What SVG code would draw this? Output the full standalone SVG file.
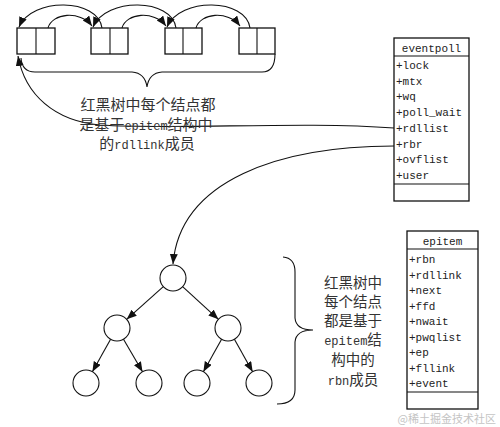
<svg xmlns="http://www.w3.org/2000/svg" width="500" height="427" viewBox="0 0 500 427">
<style>
.box{fill:#fff;stroke:#111;stroke-width:1.3}
.ln{fill:none;stroke:#111;stroke-width:1.1}
.ar{fill:none;stroke:#111;stroke-width:1.1;marker-end:url(#ah)}
.node{fill:#fff;stroke:#111;stroke-width:1.1}
.mono{font-family:"Liberation Mono","DejaVu Sans Mono",monospace;font-size:11px;fill:#222}
.cjk{font-family:"Noto Sans CJK SC","Liberation Sans",sans-serif;font-size:15px;fill:#333}
.cjk2{font-family:"Noto Sans CJK SC","Liberation Sans",sans-serif;font-size:14.5px;fill:#333}
.lat{font-family:"Liberation Mono","DejaVu Sans Mono",monospace;font-size:12px}
.wm{font-family:"Noto Sans CJK SC",sans-serif;font-size:11px;fill:#c4c4c4}
</style>
<defs>
<marker id="ah" markerUnits="userSpaceOnUse" markerWidth="11" markerHeight="9" refX="10" refY="4" orient="auto">
<path d="M0,0 L10,4 L0,8 z" fill="#111"/>
</marker>
</defs>

<g id="list-node-1"><rect class="box" x="17" y="28" width="38" height="26"/><line class="ln" x1="36" y1="28" x2="36" y2="54"/></g>
<g id="list-node-2"><rect class="box" x="91" y="28" width="37" height="26"/><line class="ln" x1="110" y1="28" x2="110" y2="54"/></g>
<g id="list-node-3"><rect class="box" x="165" y="28" width="37" height="26"/><line class="ln" x1="183" y1="28" x2="183" y2="54"/></g>
<g id="list-node-4"><rect class="box" x="239" y="28" width="36" height="26"/><line class="ln" x1="257" y1="28" x2="257" y2="54"/></g>

<g id="eventpoll">
<rect class="box" x="394" y="38" width="75" height="163"/>
<line class="ln" x1="394" y1="56" x2="469" y2="56"/>
<line class="ln" x1="394" y1="184" x2="469" y2="184"/>
<text class="mono" x="431.5" y="52" text-anchor="middle">eventpoll</text>
<text class="mono" x="396" y="69">+lock</text>
<text class="mono" x="396" y="84.7">+mtx</text>
<text class="mono" x="396" y="100.4">+wq</text>
<text class="mono" x="396" y="116.1">+poll_wait</text>
<text class="mono" x="396" y="131.8">+rdllist</text>
<text class="mono" x="396" y="147.5">+rbr</text>
<text class="mono" x="396" y="163.2">+ovflist</text>
<text class="mono" x="396" y="178.9">+user</text>
</g>

<g id="epitem">
<rect class="box" x="407" y="231" width="71" height="178"/>
<line class="ln" x1="407" y1="249" x2="478" y2="249"/>
<line class="ln" x1="407" y1="392" x2="478" y2="392"/>
<text class="mono" x="442.5" y="244.5" text-anchor="middle">epitem</text>
<text class="mono" x="409" y="263">+rbn</text>
<text class="mono" x="409" y="278.5">+rdllink</text>
<text class="mono" x="409" y="294">+next</text>
<text class="mono" x="409" y="309.5">+ffd</text>
<text class="mono" x="409" y="325">+nwait</text>
<text class="mono" x="409" y="340.5">+pwqlist</text>
<text class="mono" x="409" y="356">+ep</text>
<text class="mono" x="409" y="371.5">+fllink</text>
<text class="mono" x="409" y="387">+event</text>
</g>

<g id="tree-root"><circle class="node" cx="173" cy="278" r="13"/></g>
<g id="tree-l"><circle class="node" cx="117" cy="328" r="13"/></g>
<g id="tree-r"><circle class="node" cx="228" cy="328" r="13"/></g>
<g id="tree-ll"><circle class="node" cx="86" cy="383" r="13"/></g>
<g id="tree-lr"><circle class="node" cx="149" cy="383" r="13"/></g>
<g id="tree-rl"><circle class="node" cx="197" cy="383" r="13"/></g>
<g id="tree-rr"><circle class="node" cx="259" cy="383" r="13"/></g>

<g id="connectors">
<path class="ar" d="M48,28 C52,13 80,10 92,26"/>
<path class="ar" d="M122,28 C126,13 154,10 166,26"/>
<path class="ar" d="M196,28 C200,13 228,10 240,26"/>
<path class="ar" d="M102,28 C98,-2 32,-3 19,27"/>
<path class="ar" d="M176,28 C172,-2 106,-3 93,27"/>
<path class="ar" d="M250,28 C246,-2 180,-3 167,27"/>
<path class="ln" d="M21,58 Q22,72 35,72 L132,72 Q145,73 147,87 Q149,73 162,72 L262,72 Q275,72 275,54"/>
<path class="ar" d="M394,128 C300,121 180,130 100,125 C55,121 25,95 18,56"/>
<path class="ar" d="M394,146 C280,146 180,180 173,264"/>
<line class="ar" x1="163.3" y1="286.7" x2="126.7" y2="319.3"/>
<line class="ar" x1="182.6" y1="286.7" x2="218.4" y2="319.3"/>
<line class="ar" x1="110.6" y1="339.3" x2="92.4" y2="371.7"/>
<line class="ar" x1="123.5" y1="339.2" x2="142.5" y2="371.8"/>
<line class="ar" x1="221.6" y1="339.3" x2="203.4" y2="371.7"/>
<line class="ar" x1="234.4" y1="339.3" x2="252.6" y2="371.7"/>
<path class="ln" d="M283,257 Q295,258 295,272 L295,318 Q296,330 313,330 Q296,330 295,342 L295,390 Q295,404 277,404"/>
</g>

<g id="label-list">
<text class="cjk" text-anchor="middle"><tspan x="148" y="110">红黑树中每个结点都</tspan><tspan x="146" y="129.5">是基于</tspan><tspan class="lat">epitem</tspan><tspan>结构中</tspan><tspan x="147" y="148.5">的</tspan><tspan class="lat">rdllink</tspan><tspan>成员</tspan></text>
</g>

<g id="label-tree">
<text class="cjk2" text-anchor="middle"><tspan x="353" y="288">红黑树中</tspan><tspan x="353" y="307">每个结点</tspan><tspan x="353" y="326">都是基于</tspan><tspan x="353" y="345.3" class="lat">epitem</tspan><tspan>结</tspan><tspan x="353" y="365.3">构中的</tspan><tspan x="353" y="384.6" class="lat">rbn</tspan><tspan>成员</tspan></text>
</g>

<text class="wm" x="496" y="423" text-anchor="end">@稀土掘金技术社区</text>
</svg>
